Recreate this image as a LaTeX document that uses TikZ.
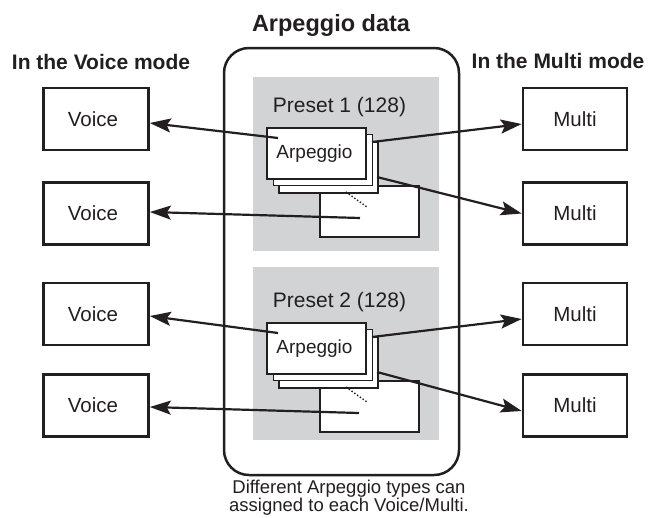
\documentclass[tikz,border=0pt]{standalone}
\usepackage{fontspec}
\setmainfont{Liberation Sans}
\usetikzlibrary{arrows.meta,positioning,calc}
\definecolor{inkblack}{RGB}{35,31,32}
\definecolor{presetgray}{RGB}{210,211,213}

\begin{document}
\begin{tikzpicture}[
  x=1pt, y=-1pt,
  heading/.style={font=\fontsize{21}{24}\bfseries\selectfont, text=inkblack, inner sep=0pt, anchor=base},
  modebox/.style={rectangle, draw=inkblack, line width=2.6pt, fill=white, minimum width=105pt, minimum height=62pt, font=\fontsize{20.5}{24}\selectfont, text=inkblack},
  card/.style={rectangle, draw=inkblack, line width=1.1pt, fill=white, minimum width=99pt, minimum height=51pt, inner sep=0pt, font=\fontsize{19}{22}\selectfont, text=inkblack},
  presetarea/.style={fill=presetgray},
  link/.style={-{Stealth[length=21pt, width=14pt, inset=4pt]}, line width=2.2pt, draw=inkblack},
  gap/.style={dotted, line width=1.4pt, draw=inkblack}
]
\useasboundingbox (0,0) rectangle (655,517);

% headings
\node[heading, font=\fontsize{23.5}{26}\bfseries\selectfont] (title) at (331,31) {Arpeggio data};
\node[heading] (vmode) at (101,69) {In the Voice mode};
\node[heading] (mmode) at (558,68) {In the Multi mode};

% arpeggio data container
\draw[line width=2.5pt, draw=inkblack, rounded corners=25pt] (224,48) rectangle (459,475);
\fill[presetarea] (253,77) rectangle (439,251);
\fill[presetarea] (253,267) rectangle (439,440);
\node[font=\fontsize{21}{24}\selectfont, text=inkblack, inner sep=0pt, anchor=base] (preset1) at (339.5,112) {Preset 1 (128)};
\node[font=\fontsize{21}{24}\selectfont, text=inkblack, inner sep=0pt, anchor=base] (preset2) at (339.5,307) {Preset 2 (128)};

% preset 1 cards
\node[card] (p1last) at (369.5,211.5) {};
\node[card] (p1c3) at (328.5,167.5) {};
\node[card] (p1c2) at (323,160) {};
\node[card] (p1c1) at (316.5,153.5) {\hspace*{-4pt}Arpeggio};
\draw[gap] (346,192) -- (367,207);

% preset 2 cards
\node[card] (p2last) at (369.5,406.5) {};
\node[card] (p2c3) at (328.5,362.5) {};
\node[card] (p2c2) at (323,355) {};
\node[card] (p2c1) at (316.5,348.5) {\hspace*{-4pt}Arpeggio};
\draw[gap] (346,387) -- (367,402);

% voice and multi boxes
\node[modebox] (voice1) at (96,119) {\hspace*{-6pt}Voice};
\node[modebox] (voice2) at (96,213.5) {\hspace*{-6pt}Voice};
\node[modebox] (voice3) at (96,314) {\hspace*{-6pt}Voice};
\node[modebox] (voice4) at (96,405.5) {\hspace*{-6pt}Voice};
\node[modebox, minimum width=104pt] (multi1) at (575,119) {Multi};
\node[modebox, minimum width=104pt] (multi2) at (575,213.5) {Multi};
\node[modebox, minimum width=104pt] (multi3) at (575,314) {Multi};
\node[modebox, minimum width=104pt] (multi4) at (575,405.5) {Multi};

% connector start points
\coordinate (a1) at (278,138);
\coordinate (b1) at (372,142);
\coordinate (c1) at (377,177);
\coordinate (d1) at (360,218);
\coordinate (a2) at (278,333);
\coordinate (b2) at (372,337);
\coordinate (c2) at (377,372);
\coordinate (d2) at (359,413);

\draw[link] (a1) -- ([yshift=-4pt]voice1.east);
\draw[link] (d1) -- ([yshift=1.5pt]voice2.east);
\draw[link] (b1) -- ([yshift=-5pt]multi1.west);
\draw[link] (c1) -- (multi2.west);
\draw[link] (a2) -- ([yshift=-2pt]voice3.east);
\draw[link] (d2) -- ([yshift=-1.5pt]voice4.east);
\draw[link] (b2) -- ([yshift=-5pt]multi3.west);
\draw[link] (c2) -- ([yshift=-5.5pt]multi4.west);

% note
\node[font=\fontsize{18.5}{14}\selectfont, text=inkblack, align=center, inner sep=0pt, anchor=north] (note) at (349,480)
  {Different Arpeggio types can\\assigned to each Voice/Multi.};
\end{tikzpicture}
\end{document}
